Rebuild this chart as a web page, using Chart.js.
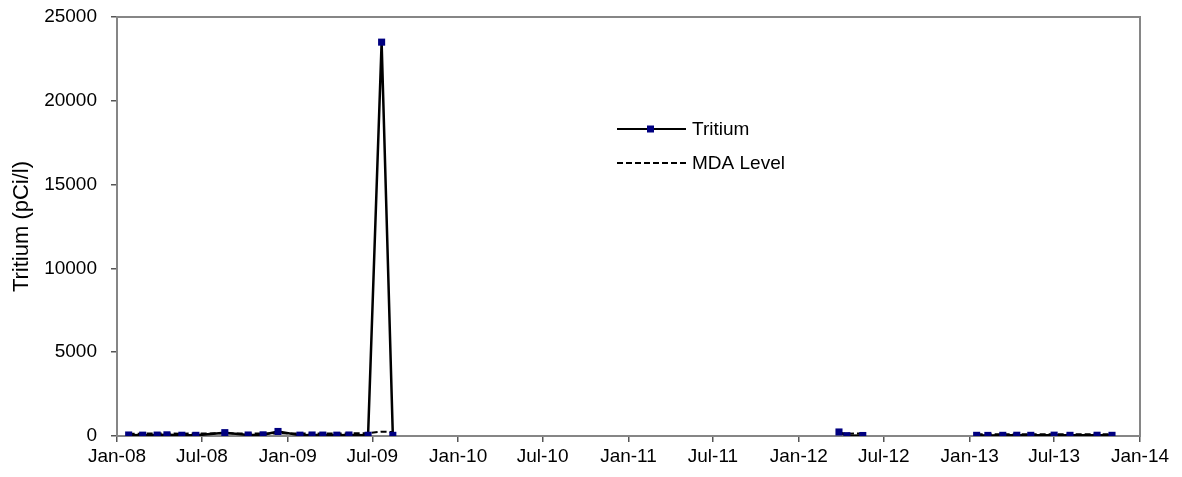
<!DOCTYPE html>
<html>
<head>
<meta charset="utf-8">
<script src="https://cdn.jsdelivr.net/npm/chart.js@4.4.0/dist/chart.umd.min.js"></script>
<style>
	html, body { margin: 0; padding: 0; background: #fff; }
</style>
</head>
<body>
<canvas id="myChart" width="1182" height="477"></canvas>
<script>
// sample dates and measured values (pCi/l)
var sampleDates = ['2008-01-26', '2008-02-25', '2008-03-27', '2008-04-17', '2008-05-19', '2008-06-18',
	'2008-08-19', '2008-10-08', '2008-11-09', '2008-12-11', '2009-01-27', '2009-02-22', '2009-03-17',
	'2009-04-16', '2009-05-12', '2009-06-22', '2009-07-21', '2009-08-14',
	'2012-03-27', '2012-04-13', '2012-05-17',
	'2013-01-16', '2013-02-09', '2013-03-13', '2013-04-12', '2013-05-12', '2013-07-01', '2013-08-04',
	'2013-10-01', '2013-11-02'];
var tritium = [60, 50, 55, 70, 45, 40, 200, 60, 70, 270, 50, 60, 55, 50, 60, 45, 23500, 40,
	240, 20, 30,
	40, 35, 40, 45, 40, 50, 40, 45, 40];
var mdaLevel = [140, 140, 150, 150, 140, 150, 160, 150, 150, 160, 150, 150, 140, 150, 160, 170, 260, 240,
	150, 140, 150,
	110, 110, 110, 110, 110, 110, 110, 110, 110];

// x axis ticks
var tickDates = ['2008-01-01', '2008-07-01', '2009-01-01', '2009-07-01', '2010-01-01', '2010-07-01',
	'2011-01-01', '2011-07-01', '2012-01-01', '2012-07-01', '2013-01-01', '2013-07-01', '2014-01-01'];
var tickLabels = ['Jan-08', 'Jul-08', 'Jan-09', 'Jul-09', 'Jan-10', 'Jul-10', 'Jan-11', 'Jul-11',
	'Jan-12', 'Jul-12', 'Jan-13', 'Jul-13', 'Jan-14'];

var dayOf = function (s) {
	return (Date.parse(s) - Date.parse('2008-01-01')) / 86400000;
};

// break the line where there is a long pause between samples
var gapColor = function (color) {
	return function (ctx) {
		return (ctx.p1.parsed.x - ctx.p0.parsed.x > 150) ? 'rgba(0,0,0,0)' : color;
	};
};

var fontFamily = '"Liberation Sans", Arial, sans-serif';

// legend drawn inside the plot area
var legendBox = {
	id: 'legendBox',
	afterDatasetsDraw: function (chart) {
		var ctx = chart.ctx;
		chart.data.datasets.forEach(function (ds, i) {
			var y = 129 + i * 34;
			ctx.save();
			ctx.strokeStyle = '#000';
			ctx.lineWidth = 2;
			ctx.setLineDash(ds.borderDash || []);
			ctx.beginPath();
			ctx.moveTo(617, y);
			ctx.lineTo(686, y);
			ctx.stroke();
			ctx.setLineDash([]);
			if (ds.pointRadius > 0) {
				ctx.fillStyle = ds.pointBackgroundColor;
				ctx.fillRect(647, y - 3.5, 7, 7);
			}
			ctx.fillStyle = '#000';
			ctx.font = '19px ' + fontFamily;
			ctx.textBaseline = 'middle';
			ctx.fillText(ds.label, 692, y + 1);
			ctx.restore();
		});
	}
};

// grey frame round the plot area
var plotFrame = {
	id: 'plotFrame',
	beforeDatasetsDraw: function (chart) {
		var a = chart.chartArea, ctx = chart.ctx;
		ctx.save();
		ctx.strokeStyle = '#868686';
		ctx.lineWidth = 2;
		ctx.strokeRect(a.left, a.top, a.right - a.left, a.bottom - a.top);
		ctx.restore();
	}
};

var points = function (values) {
	return sampleDates.map(function (d, i) {
		return { x: dayOf(d), y: values[i] };
	});
};

var canvas = document.getElementById('myChart').getContext('2d');

var myChart = new Chart(canvas, {
	type: 'line',
	data: {
		datasets: [
			{
				label: 'Tritium',
				data: points(tritium),
				borderColor: '#000',
				borderWidth: 2.5,
				segment: { borderColor: gapColor('#000') },
				pointStyle: 'rect',
				pointRadius: 5,
				pointBackgroundColor: '#000080',
				pointBorderColor: '#000080',
				pointBorderWidth: 0,
				tension: 0
			},
			{
				label: 'MDA Level',
				data: points(mdaLevel),
				borderColor: '#000',
				borderWidth: 2,
				borderDash: [6, 3],
				segment: { borderColor: gapColor('#000') },
				pointRadius: 0,
				tension: 0
			}
		]
	},
	options: {
		responsive: false,
		maintainAspectRatio: false,
		animation: false,
		layout: { padding: { top: 17, right: 42, left: 0, bottom: 0 } },
		plugins: {
			legend: { display: false },
			tooltip: { enabled: false }
		},
		scales: {
			x: {
				type: 'linear',
				min: 0,
				max: dayOf('2014-01-01'),
				afterBuildTicks: function (scale) {
					scale.ticks = tickDates.map(function (d) { return { value: dayOf(d) }; });
				},
				afterFit: function (scale) { scale.height = 41; },
				ticks: {
					autoSkip: false,
					maxRotation: 0,
					padding: 3,
					color: '#000',
					font: { family: fontFamily, size: 19 },
					callback: function (v, i) { return tickLabels[i]; }
				},
				grid: { drawOnChartArea: false, tickLength: 6, color: '#555', lineWidth: 1.5 },
				border: { color: '#868686', width: 2 }
			},
			y: {
				min: 0,
				max: 25000,
				afterFit: function (scale) {
					scale.width = 117;
					scale.paddingTop = 0;
					scale.paddingBottom = 0;
				},
				ticks: {
					stepSize: 5000,
					padding: 14,
					color: '#000',
					font: { family: fontFamily, size: 19 },
					callback: function (v) { return String(v); }
				},
				grid: { drawOnChartArea: false, tickLength: 6, color: '#555', lineWidth: 1.5 },
				border: { color: '#868686', width: 2 },
				title: {
					display: true,
					text: 'Tritium (pCi/l)',
					color: '#000',
					font: { family: fontFamily, size: 22 },
					padding: { top: 9, bottom: 0 }
				}
			}
		}
	},
	plugins: [plotFrame, legendBox]
});
</script>
</body>
</html>
